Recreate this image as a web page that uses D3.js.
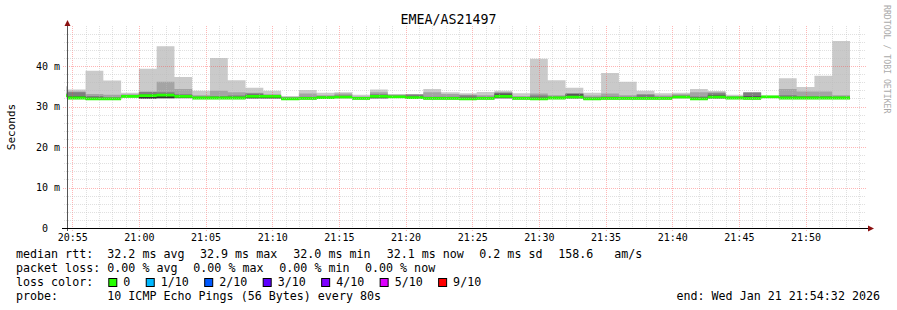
<!DOCTYPE html>
<html><head><meta charset="utf-8">
<script src="https://cdn.jsdelivr.net/npm/d3@7"></script>
<style>
html,body{margin:0;padding:0;background:#fff;}
svg{display:block;}
text{font-family:"DejaVu Sans Mono",monospace;fill:#000;}
</style></head><body>
<svg id="chart" width="897" height="310"></svg>
<script>
// ---------------- data ----------------
const title = "EMEA/AS21497";
const yLabel = "Seconds";
const yTickValues = [0, 10, 20, 30, 40];
const yTickLabels = ["0  ", "10 m", "20 m", "30 m", "40 m"];
const xTickLabels = ["20:55","21:00","21:05","21:10","21:15","21:20","21:25","21:30","21:35","21:40","21:45","21:50"];
const viewStart = "2026-01-21T20:54:32Z";
const viewEnd   = "2026-01-21T21:54:32Z";
const barStart  = "2026-01-21T20:53:20Z";
const stepSeconds = 80;

const medianRtt = [32.6,32.1,31.9,31.9,32.5,32.7,32.8,32.5,32.1,32.1,32.1,32.5,32.5,31.9,32.0,32.2,32.3,32.0,32.5,32.4,32.2,32.0,32.0,31.9,32.0,32.5,32.0,31.9,32.1,32.3,31.9,32.0,32.0,32.0,32.0,32.3,31.9,32.3,32.1,32.0,32.4,32.1,32.1,32.1,32.1];

const pings = [
 [32.3,32.4,32.5,32.5,32.6,32.7,32.8,33.0,33.4,35.0],
 [31.8,31.9,31.9,32.0,32.0,32.2,32.6,33.5,33.7,34.2],
 [31.6,31.7,31.7,31.8,31.9,32.0,32.2,32.6,33.1,38.8],
 [31.6,31.7,31.8,31.8,31.9,32.0,32.1,32.3,32.9,36.4],
 [32.2,32.3,32.3,32.4,32.5,32.6,32.7,32.8,33.0,33.4],
 [31.9,31.95,32.0,32.0,32.05,32.8,33.0,33.6,33.7,39.3],
 [31.9,32.0,32.05,32.1,32.1,32.9,33.1,33.5,36.1,44.9],
 [32.0,32.05,32.1,32.1,32.3,32.6,32.8,33.0,34.3,37.3],
 [31.8,31.9,31.9,32.0,32.1,32.2,32.3,32.5,32.8,33.9],
 [31.8,31.9,31.9,32.0,32.1,32.2,32.3,32.6,33.9,42.0],
 [31.8,31.9,31.9,32.0,32.1,32.2,32.4,32.7,33.5,36.5],
 [31.9,31.95,32.0,32.05,32.1,32.6,32.9,33.2,33.4,34.6],
 [31.9,31.95,32.0,32.05,32.1,32.6,32.7,32.8,33.0,33.9],
 [31.6,31.7,31.7,31.8,31.9,32.0,32.1,32.2,32.3,32.6],
 [31.7,31.8,31.8,31.9,32.0,32.1,32.2,32.4,33.2,34.1],
 [31.9,32.0,32.0,32.1,32.2,32.3,32.4,32.5,32.8,33.4],
 [32.0,32.1,32.1,32.2,32.3,32.4,32.5,32.7,33.2,33.5],
 [31.7,31.8,31.8,31.9,32.0,32.1,32.2,32.3,32.5,32.9],
 [31.9,31.95,32.0,32.1,32.3,32.6,32.8,33.0,33.5,34.2],
 [32.1,32.2,32.2,32.3,32.4,32.5,32.6,32.7,32.9,33.1],
 [31.9,32.0,32.0,32.1,32.2,32.3,32.5,32.9,33.0,33.1],
 [31.7,31.8,31.8,31.9,32.0,32.1,32.2,32.4,33.5,34.3],
 [31.7,31.8,31.8,31.9,32.0,32.1,32.2,32.4,33.1,33.5],
 [31.6,31.7,31.7,31.8,31.9,32.0,32.2,32.7,32.9,33.3],
 [31.7,31.8,31.8,31.9,32.0,32.1,32.2,32.4,32.8,33.6],
 [31.9,32.0,32.05,32.1,32.2,32.6,33.2,33.3,33.6,33.9],
 [31.7,31.8,31.8,31.9,32.0,32.1,32.2,32.3,32.6,33.3],
 [31.6,31.7,31.7,31.8,31.9,32.0,32.2,32.7,33.2,41.8],
 [31.8,31.9,31.9,32.0,32.1,32.2,32.3,32.5,32.8,36.5],
 [31.9,32.0,32.0,32.1,32.2,32.4,33.1,33.2,33.3,34.6],
 [31.6,31.7,31.7,31.8,31.9,32.0,32.1,32.3,32.7,33.4],
 [31.7,31.8,31.8,31.9,32.0,32.1,32.2,32.5,33.2,38.3],
 [31.7,31.8,31.8,31.9,32.0,32.1,32.2,32.4,32.8,36.1],
 [31.7,31.8,31.8,31.9,32.0,32.1,32.3,32.9,33.1,33.9],
 [31.7,31.8,31.8,31.9,32.0,32.1,32.2,32.4,32.7,33.3],
 [32.0,32.1,32.1,32.2,32.3,32.4,32.5,32.7,33.0,33.4],
 [31.6,31.7,31.7,31.8,31.9,32.0,32.2,32.5,33.5,34.3],
 [31.9,32.0,32.0,32.1,32.2,32.4,32.8,33.3,33.5,33.8],
 [31.8,31.9,31.9,32.0,32.1,32.2,32.3,32.4,32.6,32.9],
 [31.7,31.8,31.8,31.9,32.0,32.1,32.6,33.4,33.5,33.6],
 [32.1,32.2,32.2,32.3,32.4,32.5,32.5,32.6,32.6,32.7],
 [31.8,31.9,31.9,32.0,32.1,32.2,32.4,32.8,34.3,37.0],
 [31.8,31.9,31.9,32.0,32.1,32.2,32.3,32.6,33.7,34.8],
 [31.8,31.9,31.9,32.0,32.1,32.2,32.3,32.6,33.7,37.6],
 [31.8,31.9,31.9,32.0,32.1,32.2,32.3,32.5,32.8,46.2]
];

const smokeColors = ["#cacaca","#a4a4a4","#7e7e7e","#585858","#323232"];
const lossLabels = ["0","1/10","2/10","3/10","4/10","5/10","9/10"];
const lossColors = ["#26ff00","#00b8ff","#0059ff","#5e00ff","#7e00ff","#dd00ff","#ff0000"];
const medianLegend = ["median rtt:","32.2 ms avg","32.9 ms max","32.0 ms min","32.1 ms now","0.2 ms sd","158.6","am/s"];
const lossLegend = ["packet loss:","0.00 % avg","0.00 % max","0.00 % min","0.00 % now"];
const probeLegend = ["probe:","10 ICMP Echo Pings (56 Bytes) every 80s"];
const endLabel = "end: Wed Jan 21 21:54:32 2026";
const credit = "RRDTOOL / TOBI OETIKER";

// ---------------- layout ----------------
const svg = d3.select("#chart");
const L = 66, R = 866, B = 228;
const x = d3.scaleUtc().domain([new Date(viewStart), new Date(viewEnd)]).range([L, R]);
const y = d3.scaleLinear().domain([0, 50]).range([B, 25.5]);

svg.append("defs").append("clipPath").attr("id","plot")
  .append("rect").attr("x",L).attr("y",20).attr("width",R-L).attr("height",B-20);

const t0 = new Date(barStart).getTime();
const bars = medianRtt.map((m,i)=>({t:new Date(t0+i*stepSeconds*1000), m, p:pings[i]}));
const pts = bars.concat([Object.assign({}, bars[bars.length-1], {t:new Date(t0+bars.length*stepSeconds*1000)})]);

const g = svg.append("g").attr("clip-path","url(#plot)");
smokeColors.forEach((c,i)=>{
  const area = d3.area().curve(d3.curveStepAfter)
    .x(d=>x(d.t)).y0(d=>y(d.p[i])).y1(d=>y(d.p[9-i]));
  g.append("path").attr("d", area(pts)).attr("fill", c);
});
const medArea = d3.area().curve(d3.curveStepAfter)
  .x(d=>x(d.t)).y0(d=>y(d.m)+1.4).y1(d=>y(d.m)-1.4);
g.append("path").attr("d", medArea(pts)).attr("fill", lossColors[0]);

// grid
const grid = svg.append("g").attr("stroke-dasharray","1,1").attr("shape-rendering","crispEdges");
const minutes = d3.utcMinute.range(new Date(viewStart), new Date(viewEnd));
minutes.forEach(t=>{
  const major = t.getUTCMinutes() % 5 === 0;
  const xx = Math.round(x(t)) + 0.5;
  grid.append("line").attr("x1",xx).attr("x2",xx).attr("y1",26).attr("y2",B+ (major?3:2))
    .attr("stroke", major ? "#ff4040" : "#bababa").attr("stroke-opacity", major?0.38:0.45);
});
d3.range(2, 50, 2).forEach(v=>{
  const major = v % 10 === 0;
  const yy = Math.round(y(v)) + 0.5;
  grid.append("line").attr("x1", major?63:64).attr("x2",R).attr("y1",yy).attr("y2",yy)
    .attr("stroke", major ? "#ff4040" : "#bababa").attr("stroke-opacity", major?0.38:0.45);
});

// axes
svg.append("line").attr("x1",67.5).attr("x2",67.5).attr("y1",B+3).attr("y2",24)
  .attr("stroke","#555").attr("shape-rendering","crispEdges");
svg.append("line").attr("x1",62).attr("x2",870).attr("y1",B+0.5).attr("y2",B+0.5)
  .attr("stroke","#000").attr("shape-rendering","crispEdges");
svg.append("path").attr("d","M64.5,26 L67.5,20 L70.5,26 Z").attr("fill","#8b1010");
svg.append("path").attr("d","M868,225.5 L874,228.5 L868,231.5 Z").attr("fill","#8b1010");

// tick labels
svg.append("g").selectAll("text").data(yTickValues).join("text")
  .attr("x",60).attr("y",v=>y(v)+3.5).attr("text-anchor","end")
  .attr("font-size","10px").attr("xml:space","preserve").style("white-space","pre")
  .text((v,i)=>yTickLabels[i]);
svg.append("g").selectAll("text").data(xTickLabels).join("text")
  .attr("x",s=>x(new Date("2026-01-21T"+s+":00Z"))+0.5).attr("y",241)
  .attr("text-anchor","middle").attr("font-size","10px").text(s=>s);

// titles
svg.append("text").attr("x",448.5).attr("y",24).attr("text-anchor","middle")
  .attr("font-size","13.3px").text(title);
svg.append("text").attr("transform","translate(15,127) rotate(-90)").attr("text-anchor","middle")
  .attr("font-size","11px").text(yLabel);
svg.append("text").attr("transform","translate(884,5) rotate(90)")
  .attr("font-size","8.2px").style("fill","#aaaaaa").text(credit);

// legend
const LF = "11.66px";
const line1X = [16,107.3,200,293.3,386.7,479.3,558.3,614.3];
medianLegend.forEach((s,i)=>svg.append("text").attr("x",line1X[i]).attr("y",258).attr("font-size",LF).text(s));
const line2X = [16,107.3,193.3,279.3,365];
lossLegend.forEach((s,i)=>svg.append("text").attr("x",line2X[i]).attr("y",272).attr("font-size",LF).text(s));
svg.append("text").attr("x",16).attr("y",286).attr("font-size",LF).text("loss color:");
let cx = 108.3;
lossLabels.forEach((s,i)=>{
  svg.append("rect").attr("x",cx+0.5).attr("y",278.5).attr("width",8).attr("height",8)
    .attr("fill",lossColors[i]).attr("stroke","#000").attr("stroke-width",1);
  const t = svg.append("text").attr("x",cx+15).attr("y",286).attr("font-size",LF).text(s);
  cx = cx + 15 + t.node().getComputedTextLength() + 15.4;
});
svg.append("text").attr("x",16).attr("y",300).attr("font-size",LF).text(probeLegend[0]);
svg.append("text").attr("x",107.3).attr("y",300).attr("font-size",LF).text(probeLegend[1]);
svg.append("text").attr("x",880).attr("y",300).attr("text-anchor","end").attr("font-size",LF).text(endLabel);
</script>
</body></html>
